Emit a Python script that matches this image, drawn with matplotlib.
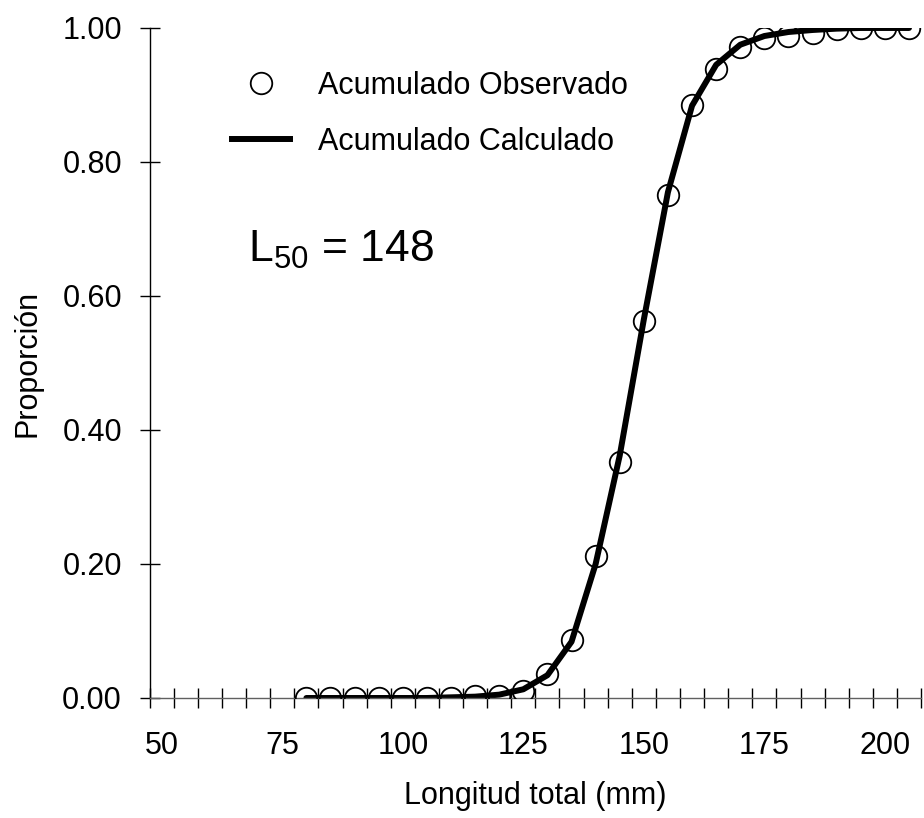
import matplotlib
matplotlib.use('Agg')
import matplotlib.pyplot as plt
from matplotlib.ticker import MultipleLocator, FixedLocator
from matplotlib.lines import Line2D

plt.rcParams['font.family'] = ['Liberation Sans', 'DejaVu Sans']

# Datos: longitud total (mm) y proporciones acumuladas
longitud = [80, 85, 90, 95, 100, 105, 110, 115, 120, 125, 130, 135, 140,
            145, 150, 155, 160, 165, 170, 175, 180, 185, 190, 195, 200, 205]
observado = [0.000, 0.000, 0.000, 0.000, 0.000, 0.000, 0.000, 0.003, 0.003,
             0.011, 0.036, 0.086, 0.212, 0.352, 0.563, 0.751, 0.885, 0.939,
             0.972, 0.985, 0.988, 0.993, 0.998, 1.000, 1.000, 1.000]
calculado = [0.000, 0.000, 0.000, 0.000, 0.000, 0.000, 0.001, 0.002, 0.005,
             0.013, 0.034, 0.084, 0.200, 0.362, 0.565, 0.755, 0.884, 0.945,
             0.975, 0.988, 0.994, 0.997, 0.999, 1.000, 1.000, 1.000]
l50 = 148

fig = plt.figure(figsize=(9.24, 8.18), dpi=100)
ax = fig.add_axes([0.162, 0.1467, 0.8348, 0.8191])

ax.plot(longitud, calculado, color='black', lw=4.3, solid_capstyle='round',
        zorder=2)
ax.plot(longitud, observado, linestyle='none', marker='o', ms=15.5,
        mfc='none', mec='black', mew=1.3, zorder=3)

ax.set_xlim(47.5, 207.5)
ax.set_ylim(0, 1)

for s in ['top', 'right']:
    ax.spines[s].set_visible(False)
ax.spines['left'].set_color('black')
ax.spines['left'].set_linewidth(1.0)
ax.spines['bottom'].set_color('#606060')
ax.spines['bottom'].set_linewidth(1.0)

ax.xaxis.set_major_locator(FixedLocator([50, 75, 100, 125, 150, 175, 200]))
ax.xaxis.set_minor_locator(FixedLocator([47.5 + 5 * i for i in range(33)]))
ax.yaxis.set_major_locator(MultipleLocator(0.2))
ax.yaxis.set_major_formatter(plt.FuncFormatter(lambda v, p: f'{v:.2f}'))

ax.tick_params(axis='x', which='major', length=0, pad=24, labelsize=22)
ax.tick_params(axis='x', which='minor', direction='inout', length=14,
               width=1.0, color='black')
ax.tick_params(axis='y', which='major', direction='inout', length=14,
               width=1.0, labelsize=22, pad=13)

ax.set_xlabel('Longitud total (mm)', fontsize=22, labelpad=14)
ax.set_ylabel('Proporción', fontsize=22, labelpad=14)

handles = [Line2D([], [], linestyle='none', marker='o', ms=15.5, mfc='none',
                  mec='black', mew=1.3),
           Line2D([], [], color='black', lw=4.3)]
ax.legend(handles, ['Acumulado Observado', 'Acumulado Calculado'],
          frameon=False, fontsize=22, handlelength=1.9, handletextpad=0.92,
          labelspacing=0.85, loc='upper left',
          bbox_to_anchor=(232 / 924, 1 - 71 / 818),
          bbox_transform=fig.transFigure, borderaxespad=0, borderpad=0)

ax.text(248 / 924, 1 - 250 / 818, r'L$_{\mathregular{50}}$ = %d' % l50,
        transform=fig.transFigure, fontsize=32, va='center', ha='left')

fig.savefig('out.png', dpi=100, facecolor='white')
